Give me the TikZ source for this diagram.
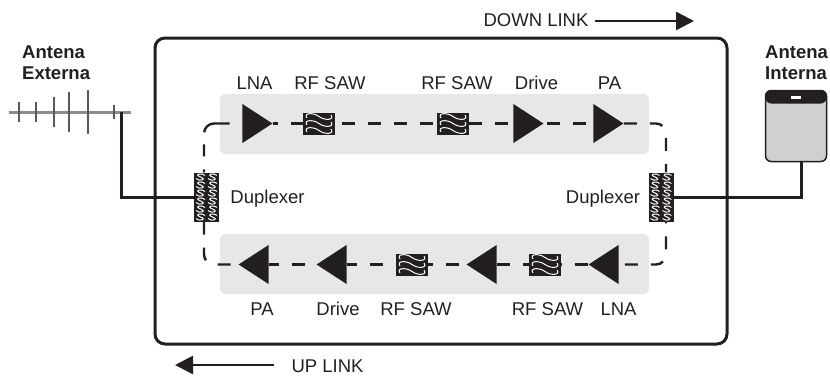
\documentclass[tikz,border=0pt]{standalone}
\usepackage{xcolor}
\usepackage{fontspec}
\setmainfont{Liberation Sans}
\usetikzlibrary{arrows.meta,shapes.geometric,calc}
\definecolor{ink}{HTML}{231F20}
\definecolor{panelgray}{HTML}{E6E7E8}
\definecolor{bodygray}{HTML}{CFD0D2}
\newcommand{\sawlying}[1]{
	\coordinate (sawc) at ([yshift = #1]path picture bounding box.center);
	\draw[sawline]($(sawc)+(-12,1.5)$) .. controls ($(sawc)+(-16,-4)$) and ($(sawc)+(-5,-4)$) .. (sawc)
		.. controls ($(sawc)+(5,4)$) and ($(sawc)+(16,4)$) .. ($(sawc)+(12,-1.5)$);
}
\newcommand{\sawupright}[2]{
	\coordinate (sawc) at ([xshift = #1,yshift = #2]path picture bounding box.center);
	\draw[sawline]($(sawc)+(4.5,-1.6)$) .. controls ($(sawc)+(1,-4.6)$) and ($(sawc)+(-7,-2.8)$) .. (sawc)
		.. controls ($(sawc)+(7,2.8)$) and ($(sawc)+(-1,4.6)$) .. ($(sawc)+(-4.5,1.6)$);
}
\tikzset{
	labeltext/.style = {
		font = \fontsize{18.5}{21}\selectfont,
		text = ink,
		inner sep = 0pt,
		anchor = base,
	},
	antennatext/.style = {
		labeltext,
		font = \fontsize{18.5}{21}\selectfont\bfseries,
		align = left,
		anchor = west,
	},
	ampright/.style = {
		isosceles triangle,
		isosceles triangle stretches,
		fill = ink,
		inner sep = 0pt,
		minimum width = 39pt,
		minimum height = 30pt,
	},
	ampleft/.style = {
		ampright,
		shape border rotate = 180,
	},
	sawline/.style = {
		white,
		line width = 1pt,
	},
	sawblock/.style = {
		rectangle,
		fill = ink,
		inner sep = 0pt,
		minimum width = 32pt,
		minimum height = 22pt,
		path picture = {
			\foreach \r in {-7pt,0pt,7pt} {
				\sawlying{\r}
			}
		},
	},
	dupblock/.style = {
		rectangle,
		fill = ink,
		inner sep = 0pt,
		minimum width = 25pt,
		minimum height = 49pt,
		path picture = {
			\foreach \r in {-20pt,-12pt,-4pt,4pt,12pt,20pt} {
				\foreach \c in {-6pt,6pt} {
					\sawupright{\c}{\r}
				}
			}
		},
	},
	panel/.style = {
		rectangle,
		fill = panelgray,
		rounded corners = 2mm,
		minimum width = 429pt,
		minimum height = 60pt,
	},
	link/.style = {
		ink,
		line width = 2.4pt,
		dash pattern = on 13pt off 13pt,
		rounded corners = 10pt,
	},
	cable/.style = {
		ink,
		line width = 3pt,
	},
	flowarrow/.style = {
		ink,
		line width = 2.5pt,
		-{Triangle[length = 18pt,width = 18pt]},
	},
	element/.style = {
		black!65,
		line width = 1.5pt,
	},
}

\begin{document}
\begin{tikzpicture}[x = 1pt,y = -1pt]
	\useasboundingbox (0,0) rectangle (830,375);

	% housing and the two gray bands
	\node[rectangle,draw = ink,line width = 3pt,rounded corners = 3.5mm,minimum width = 572pt,minimum height = 306pt](housing) at (441,191){};
	\node[panel](toppanel) at (434.5,124){};
	\node[panel](bottompanel) at (434.5,264){};

	% duplexers
	\node[dupblock](dupleft) at (206.5,197){};
	\node[dupblock](dupright) at (661,197){};
	\node[labeltext](dupleftlabel) at (267.5,203){Duplexer};
	\node[labeltext](duprightlabel) at (603,203){Duplexer};

	% down link chain
	\node[ampright](lnadown) at (253,123.5){};
	\node[sawblock](sawdowna) at (319,123.5){};
	\node[sawblock](sawdownb) at (453,123.5){};
	\node[ampright](drivedown) at (524,123.5){};
	\node[ampright](padown) at (604,123.5){};
	\node[labeltext] at (254.5,89){LNA};
	\node[labeltext] at (330,89){RF SAW};
	\node[labeltext] at (457,89){RF SAW};
	\node[labeltext] at (536.5,89){Drive};
	\node[labeltext] at (609.5,89){PA};

	% up link chain
	\node[ampleft](lnaup) at (608,264.5){};
	\node[sawblock](sawupa) at (545,264.5){};
	\node[ampleft](driveup) at (486,264.5){};
	\node[sawblock](sawupb) at (412,264.5){};
	\node[ampleft](paup) at (336,264.5){};
	\node[ampleft](paupb) at (258,264.5){};
	\node[labeltext] at (618.5,315){LNA};
	\node[labeltext] at (547.5,315){RF SAW};
	\node[labeltext] at (416,315){RF SAW};
	\node[labeltext] at (338,315){Drive};
	\node[labeltext] at (262,315){PA};

	\draw[link,dash pattern = on 3pt off 13pt on 12pt off 12pt on 30pt off 13pt on 13pt off 13pt]([xshift = -2.5pt]dupleft.north) |- (lnadown);
	\foreach \a/\b/\p in {lnadown/sawdowna/8,sawdowna/sawdownb/19,sawdownb/drivedown/0,drivedown/padown/23}
		\draw[link,dash phase = \p pt](\a) -- (\b);
	\draw[link](padown) -| ([xshift = 5pt]dupright.north);

	\draw[link,dash phase = 20pt](lnaup) -| ([xshift = 5pt]dupright.south);
	\foreach \a/\b/\p in {lnaup/sawupa/0,sawupa/driveup/7,driveup/sawupb/19,sawupb/paup/13,paup/paupb/15}
		\draw[link,dash phase = \p pt](\a) -- (\b);
	\draw[link]([xshift = -2.5pt]dupleft.south) |- (paupb);

	% external antenna
	\node[rectangle,fill = black!45,inner sep = 0pt,minimum width = 122pt,minimum height = 3pt](antext) at (70,112){};
	\foreach \x/\h in {19/10,36/10,54/15,69/20,88/22,114/7}
		\draw[element](\x,112-\h) -- (\x,112+\h);
	\node[antennatext](antextlabel) at (22,63){Antena\\Externa};
	\draw[cable]([xshift = 51pt]antext.center) |- (dupleft);

	% internal antenna
	\node[rectangle,draw = ink,line width = 1.5pt,fill = bodygray,rounded corners = 2mm,minimum width = 61pt,minimum height = 71pt,
		path picture = {\fill[ink](path picture bounding box.north west) rectangle ([yshift = -13pt]path picture bounding box.north east);}](antint) at (796,126){};
	\node[rectangle,fill = white,inner sep = 0pt,minimum width = 10pt,minimum height = 3pt](antintslot) at (796,97.5){};
	\node[antennatext](antintlabel) at (765,63){Antena\\Interna};
	\draw[cable]([xshift = 5pt]antint.south) |- (dupright);

	% direction arrows
	\node[labeltext](downlabel) at (536,26){DOWN LINK};
	\coordinate (downtail) at (595,21);
	\coordinate (downtip) at (694,21);
	\draw[flowarrow](downtail) -- (downtip);
	\node[labeltext](uplabel) at (327.5,372){UP LINK};
	\coordinate (uptail) at (274,365);
	\coordinate (uptip) at (175,365);
	\draw[flowarrow](uptail) -- (uptip);
\end{tikzpicture}
\end{document}
